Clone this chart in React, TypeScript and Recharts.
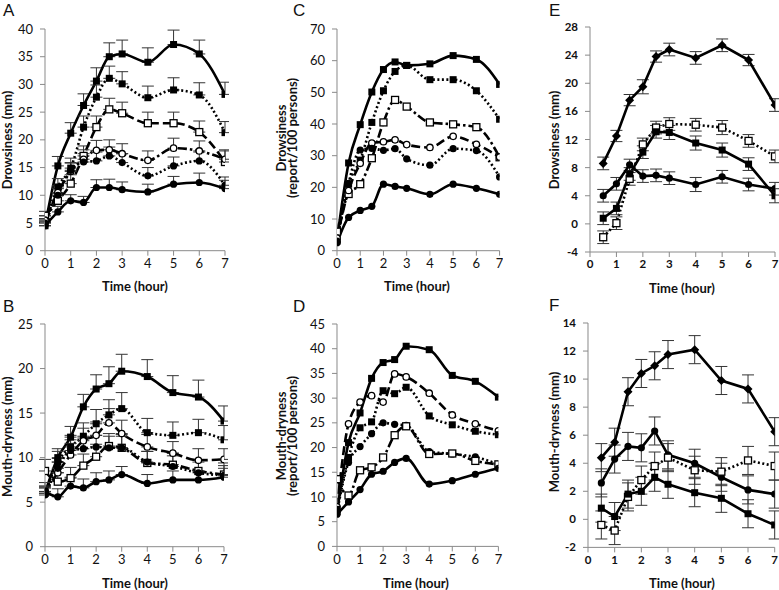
import React from 'react';
import { LineChart, Line, XAxis, YAxis, ErrorBar } from 'recharts';

// time points (hour)
const hoursAD = [0, 0.5, 1, 1.5, 2, 2.5, 3, 4, 5, 6, 7];
const hoursEF = [0.5, 1, 1.5, 2, 2.5, 3, 4, 5, 6, 7];
const hourTicks = [0, 1, 2, 3, 4, 5, 6, 7];

// A: Drowsiness (mm)
const aSolidSq = [4.5, 15.3, 21.2, 26.2, 30.6, 35, 35.5, 34, 37.2, 35.5, 28.2];
const aDotSq = [5, 11.5, 14.9, 22.3, 27.7, 31.1, 30.1, 27.6, 29, 28.1, 21.3];
const aDashOpenSq = [6.3, 9, 12.1, 17.1, 22.3, 25.5, 24.8, 23, 23, 21.4, 16];
const aDashOpenCi = [5.5, 10.5, 14.3, 16.5, 18.1, 18.2, 17.5, 16.3, 18.5, 18, 16.5];
const aDotCi = [5, 10, 14.5, 16, 16.2, 17.1, 15.9, 13.5, 15.3, 16.2, 11.8];
const aSolidCi = [4.5, 7, 9, 8.7, 11.4, 11.4, 11, 10.6, 12, 12.3, 11.2];
const aSolidSqErr = [0.8, 1.7, 1.9, 2.1, 2.4, 2.5, 2.5, 2.6, 2.6, 2.5, 2.2];
const aDotSqErr = [0.8, 1.5, 1.8, 2, 2.2, 2.2, 2.2, 2.1, 2.2, 2.2, 2];
const aDashOpenSqErr = [0.8, 1.3, 1.6, 1.8, 2, 2, 2, 2, 2, 2, 2];
const aDashOpenCiErr = [0.8, 1.3, 1.5, 1.7, 1.8, 1.8, 1.8, 1.7, 1.8, 1.8, 1.7];
const aDotCiErr = [0.7, 1.2, 1.4, 1.5, 1.6, 1.6, 1.6, 1.5, 1.6, 1.6, 1.5];
const aSolidCiErr = [0.6, 1, 1.1, 1.1, 1.4, 1.5, 1.4, 1.4, 1.4, 1.7, 1.5];

// B: Mouth-dryness (mm)
const bSolidSq = [6, 10, 12.3, 15.7, 17.7, 18.3, 19.7, 19.1, 17.3, 16.8, 14.1];
const bDotSq = [6, 9.5, 11.2, 12.4, 13.8, 14.8, 15.5, 12.8, 12.5, 12.8, 12];
const bDashDotOpenSq = [8.5, 7.3, 7.7, 9.1, 10.1, 11.3, 11.1, 9.4, 9.2, 8.5, 8.1];
const bDashOpenCi = [6.2, 8.3, 10.3, 11.9, 12.5, 13.9, 12.7, 11.2, 10.5, 9.7, 9.8];
const bDotCi = [5.8, 8.8, 10.8, 11, 11.2, 11.1, 11.1, 9.5, 9, 8.3, 8];
const bSolidCi = [6.2, 5.6, 6.8, 6.6, 7.3, 7.5, 8.1, 7.1, 7.5, 7.5, 7.8];
const bSolidSqErr = [0.6, 1, 1.2, 1.4, 1.6, 1.9, 1.9, 1.9, 1.9, 1.9, 1.7];
const bDotSqErr = [0.8, 1.2, 1.3, 1.5, 1.6, 1.7, 1.8, 1.6, 1.5, 1.5, 1.6];
const bDashDotOpenSqErr = [1.3, 1, 1.2, 1.3, 1.4, 1.4, 1.5, 1.3, 1.3, 1.3, 1.3];
const bDashOpenCiErr = [1, 1.2, 1.3, 1.4, 1.5, 1.6, 1.5, 1.4, 1.3, 1.3, 1.2];
const bDotCiErr = [0.8, 1.1, 1.2, 1.2, 1.3, 1.3, 1.3, 1.2, 1.2, 1.2, 1.1];
const bSolidCiErr = [0.6, 0.9, 1, 1, 1, 1, 0.9, 1, 1, 1, 1];

// C: Drowsiness (report/100 persons)
const cSolidSq = [3.4, 27.7, 39.8, 50.1, 57.2, 59.6, 58.5, 59, 61.6, 60.4, 52.5];
const cDotSq = [3, 21, 28.6, 40.5, 50.5, 56.6, 58.5, 54, 54, 50.5, 41.5];
const cDashDotOpenSq = [6, 17.9, 21, 29.2, 40.5, 47.6, 45.5, 40.5, 39.9, 39, 29.5];
const cDashOpenCi = [4, 19, 27.6, 34, 34.4, 35, 33.5, 32.6, 36.1, 33.6, 29.6];
const cDotCi = [3, 21.3, 31.8, 32.3, 31.7, 32.2, 29, 27, 32.2, 31.6, 23.3];
const cSolidCi = [2.5, 10.5, 12.7, 14, 21, 20.3, 19.7, 17.8, 21, 19.7, 17.8];

// D: Mouth-dryness (report/100 persons)
const dSolidSq = [7, 21, 27, 34, 37.2, 37.8, 40.5, 39.8, 34.6, 33.4, 30.2];
const dDashOpenCi = [8, 24.8, 29.2, 30.5, 29.2, 34.9, 34.3, 31, 26.6, 24.8, 23.4];
const dDotSq = [7.5, 18, 24, 25.2, 31.5, 30.9, 32.2, 26.4, 24.6, 23.3, 22.6];
const dDotCi = [7, 17, 20.2, 22.8, 25, 24.7, 24.5, 19.2, 18.7, 18.1, 16.6];
const dDashDotOpenSq = [13.6, 10.3, 15.4, 16, 18, 22.5, 24.3, 18.7, 18.8, 17.3, 16.6];
const dSolidCi = [6.5, 9, 11.5, 14.6, 15.2, 17, 17.8, 12.6, 13.3, 14.6, 15.8];

// E: Drowsiness (mm)
const eSolidDia = [8.6, 12.5, 17.6, 19.5, 23.8, 24.8, 23.6, 25.4, 23.3, 16.9];
const eDotOpenSq = [-1.9, 0.1, 6.4, 11.3, 13.7, 14.2, 14.1, 13.7, 11.8, 9.6];
const eSolidSq = [0.8, 2.2, 7.1, 10.2, 13.1, 13, 11.5, 10.5, 8.5, 4];
const eSolidCi = [4, 5.7, 8.4, 6.8, 6.9, 6.5, 5.6, 6.7, 5.6, 5];
const eSolidDiaErr = [0.9, 0.8, 0.8, 1, 0.8, 0.9, 0.9, 0.9, 0.8, 0.9];
const eDotOpenSqErr = [0.9, 0.9, 0.9, 0.9, 0.9, 0.9, 0.9, 1, 0.9, 0.9];
const eSolidSqErr = [0.9, 0.9, 0.9, 0.9, 0.9, 1, 1, 1, 0.9, 1];
const eSolidCiErr = [0.9, 0.9, 0.8, 0.9, 0.9, 0.9, 1, 0.9, 0.9, 0.9];

// F: Mouth-dryness (mm)
const fSolidDia = [4.4, 5.5, 9.1, 10.4, 10.95, 11.75, 12.1, 9.9, 9.3, 6.25];
const fSolidCi = [2.6, 4.3, 5.2, 5.1, 6.3, 4.6, 4, 3, 2.1, 1.8];
const fDotOpenSq = [-0.4, -0.8, 1.6, 2.8, 3.8, 4.4, 3.5, 3.4, 4.2, 3.8];
const fSolidSq = [0.8, 0.2, 1.8, 2, 3, 2.5, 1.9, 1.5, 0.4, -0.4];
const fSolidDiaErr = [1, 1, 1, 1, 1, 1, 1, 1, 1, 1];
const fSolidCiErr = [1, 1, 1, 1, 1, 1, 1, 1, 1, 1];
const fDotOpenSqErr = [1, 1, 1, 1, 1, 1, 1, 1, 1, 1];
const fSolidSqErr = [1, 1, 1, 1, 1, 1, 1, 1, 1, 1];

const FONT = 'Lato, "Liberation Sans", Arial, sans-serif';
const AXIS = '#8a8a8a';
const SOLID = undefined;
const DOT = '2 2.5';
const DASH = '9 4';
const DASHDOT = '9 3 2.5 3';

type MarkerKind = 'sq' | 'osq' | 'ci' | 'oci' | 'dia';
type SeriesDef = { values: number[]; err?: number[]; dash?: string; marker: MarkerKind };

const makeDot = (kind: MarkerKind) => (p: any) => {
  const { cx, cy, index } = p;
  if (cx == null || cy == null) return <g key={index} />;
  if (kind === 'sq' || kind === 'osq') {
    const open = kind === 'osq';
    return (
      <rect key={index} x={cx - 3.5} y={cy - 3.5} width={7} height={7}
        fill={open ? '#fff' : '#000'} stroke="#000" strokeWidth={open ? 1.3 : 0} />
    );
  }
  if (kind === 'ci' || kind === 'oci') {
    const open = kind === 'oci';
    return (
      <circle key={index} cx={cx} cy={cy} r={open ? 3.2 : 3.6}
        fill={open ? '#fff' : '#000'} stroke="#000" strokeWidth={open ? 1.3 : 0} />
    );
  }
  return (
    <polygon key={index} fill="#000"
      points={`${cx},${cy - 4.5} ${cx + 4.5},${cy} ${cx},${cy + 4.5} ${cx - 4.5},${cy}`} />
  );
};

const buildRows = (hours: number[], series: SeriesDef[], upOnly: boolean) =>
  hours.map((h, i) => {
    const row: any = { h };
    series.forEach((s, j) => {
      row['v' + j] = s.values[i];
      if (s.err) row['e' + j] = upOnly ? [0, s.err[i]] : s.err[i];
    });
    return row;
  });

interface PanelProps {
  plotLeft: number;
  plotRight: number;
  plotTop: number;
  plotBottom: number;
  hours: number[];
  series: SeriesDef[];
  domain: [number, number];
  ticks: number[];
  smooth: boolean;
  upOnly?: boolean;
  tickSize: number;
  tickWeight: number;
}

const Panel = ({ plotLeft, plotRight, plotTop, plotBottom, hours, series, domain, ticks, smooth, upOnly = false, tickSize, tickWeight }: PanelProps) => {
  const yw = 44;
  const xh = 28;
  const chartLeft = plotLeft - yw;
  const chartTop = plotTop - 10;
  const right = Math.min(779, plotRight + 4);
  const W = right - chartLeft;
  const H = plotBottom + xh + 2 - chartTop;
  const rows = buildRows(hours, series, upOnly);
  const tickStyle = { fill: '#111', fontSize: tickSize, fontFamily: FONT, fontWeight: tickWeight };
  return (
    <div style={{ position: 'absolute', left: chartLeft, top: chartTop, width: W, height: H }}>
      <LineChart width={W} height={H} data={rows}
        margin={{ top: 10, right: right - plotRight, bottom: 2, left: 0 }}>
        <XAxis dataKey="h" type="number" domain={[0, 7]} ticks={hourTicks} interval={0}
          allowDataOverflow height={xh} stroke={AXIS} tickSize={5} tickMargin={3} tick={tickStyle} />
        <YAxis type="number" domain={domain} ticks={ticks} interval={0} allowDataOverflow
          width={yw} stroke={AXIS} tickSize={5} tickMargin={7} tick={tickStyle} />
        {series.map((s, j) => (
          <Line key={j} dataKey={'v' + j} type={smooth ? 'monotone' : 'linear'} stroke="#000"
            strokeWidth={2.6} strokeDasharray={s.dash} dot={makeDot(s.marker)} activeDot={false}
            isAnimationActive={false}>
            {s.err && (
              <ErrorBar dataKey={'e' + j} direction="y" width={6} stroke="#333" strokeWidth={1} />
            )}
          </Line>
        ))}
      </LineChart>
    </div>
  );
};

const seriesA: SeriesDef[] = [
  { values: aSolidSq, err: aSolidSqErr, dash: SOLID, marker: 'sq' },
  { values: aDotSq, err: aDotSqErr, dash: DOT, marker: 'sq' },
  { values: aDashOpenSq, err: aDashOpenSqErr, dash: DASH, marker: 'osq' },
  { values: aDashOpenCi, err: aDashOpenCiErr, dash: DASHDOT, marker: 'oci' },
  { values: aDotCi, err: aDotCiErr, dash: DOT, marker: 'ci' },
  { values: aSolidCi, err: aSolidCiErr, dash: SOLID, marker: 'ci' },
];
const seriesB: SeriesDef[] = [
  { values: bSolidSq, err: bSolidSqErr, dash: SOLID, marker: 'sq' },
  { values: bDotSq, err: bDotSqErr, dash: DOT, marker: 'sq' },
  { values: bDashDotOpenSq, err: bDashDotOpenSqErr, dash: DASHDOT, marker: 'osq' },
  { values: bDashOpenCi, err: bDashOpenCiErr, dash: DASH, marker: 'oci' },
  { values: bDotCi, err: bDotCiErr, dash: DOT, marker: 'ci' },
  { values: bSolidCi, err: bSolidCiErr, dash: SOLID, marker: 'ci' },
];
const seriesC: SeriesDef[] = [
  { values: cSolidSq, dash: SOLID, marker: 'sq' },
  { values: cDotSq, dash: DOT, marker: 'sq' },
  { values: cDashDotOpenSq, dash: DASHDOT, marker: 'osq' },
  { values: cDashOpenCi, dash: DASH, marker: 'oci' },
  { values: cDotCi, dash: DOT, marker: 'ci' },
  { values: cSolidCi, dash: SOLID, marker: 'ci' },
];
const seriesD: SeriesDef[] = [
  { values: dSolidSq, dash: SOLID, marker: 'sq' },
  { values: dDashOpenCi, dash: DASH, marker: 'oci' },
  { values: dDotSq, dash: DOT, marker: 'sq' },
  { values: dDotCi, dash: DOT, marker: 'ci' },
  { values: dDashDotOpenSq, dash: DASHDOT, marker: 'osq' },
  { values: dSolidCi, dash: SOLID, marker: 'ci' },
];
const seriesE: SeriesDef[] = [
  { values: eSolidDia, err: eSolidDiaErr, dash: SOLID, marker: 'dia' },
  { values: eDotOpenSq, err: eDotOpenSqErr, dash: DOT, marker: 'osq' },
  { values: eSolidSq, err: eSolidSqErr, dash: SOLID, marker: 'sq' },
  { values: eSolidCi, err: eSolidCiErr, dash: SOLID, marker: 'ci' },
];
const seriesF: SeriesDef[] = [
  { values: fSolidDia, err: fSolidDiaErr, dash: SOLID, marker: 'dia' },
  { values: fSolidCi, err: fSolidCiErr, dash: SOLID, marker: 'ci' },
  { values: fDotOpenSq, err: fDotOpenSqErr, dash: DOT, marker: 'osq' },
  { values: fSolidSq, err: fSolidSqErr, dash: SOLID, marker: 'sq' },
];

const titleStyle = { fontFamily: FONT, fontWeight: 700, fontSize: 13, fill: '#111' } as const;
const letterStyle = { fontFamily: '"Liberation Sans", Arial, sans-serif', fontSize: 17, fill: '#111' } as const;

const YTitle = ({ x, y, text }: { x: number; y: number; text: string }) => (
  <text x={x} y={y} transform={`rotate(-90 ${x} ${y})`} textAnchor="middle" dominantBaseline="central" style={titleStyle}>
    {text}
  </text>
);
const XTitle = ({ x, y }: { x: number; y: number }) => (
  <text x={x} y={y} textAnchor="middle" dominantBaseline="central" style={titleStyle}>Time (hour)</text>
);

export default function App() {
  return (
    <div style={{ position: 'absolute', left: 0, top: 0, width: 779, height: 590, overflow: 'hidden', background: '#fff' }}>
      <Panel plotLeft={45} plotRight={225} plotTop={29} plotBottom={250.7} hours={hoursAD} series={seriesA}
        domain={[0, 40]} ticks={[0, 5, 10, 15, 20, 25, 30, 35, 40]} smooth upOnly tickSize={13} tickWeight={400} />
      <Panel plotLeft={45} plotRight={224} plotTop={324} plotBottom={546.7} hours={hoursAD} series={seriesB}
        domain={[0, 25]} ticks={[0, 5, 10, 15, 20, 25]} smooth upOnly tickSize={13} tickWeight={400} />
      <Panel plotLeft={336.7} plotRight={499.3} plotTop={29} plotBottom={250.7} hours={hoursAD} series={seriesC}
        domain={[0, 70]} ticks={[0, 10, 20, 30, 40, 50, 60, 70]} smooth tickSize={13} tickWeight={400} />
      <Panel plotLeft={337.3} plotRight={498.7} plotTop={324.3} plotBottom={546.7} hours={hoursAD} series={seriesD}
        domain={[0, 45]} ticks={[0, 5, 10, 15, 20, 25, 30, 35, 40, 45]} smooth tickSize={13} tickWeight={400} />
      <Panel plotLeft={589.7} plotRight={774.7} plotTop={27.3} plotBottom={252.3} hours={hoursEF} series={seriesE}
        domain={[-4, 28]} ticks={[-4, 0, 4, 8, 12, 16, 20, 24, 28]} smooth={false} tickSize={11.5} tickWeight={700} />
      <Panel plotLeft={588} plotRight={774.7} plotTop={323.3} plotBottom={547.7} hours={hoursEF} series={seriesF}
        domain={[-2, 14]} ticks={[-2, 0, 2, 4, 6, 8, 10, 12, 14]} smooth={false} tickSize={11.5} tickWeight={700} />

      <svg width={779} height={590} style={{ position: 'absolute', left: 0, top: 0, pointerEvents: 'none' }}>
        <text x={3} y={16} style={letterStyle}>A</text>
        <text x={293} y={16} style={letterStyle}>C</text>
        <text x={549} y={16} style={letterStyle}>E</text>
        <text x={3} y={312} style={letterStyle}>B</text>
        <text x={293} y={312} style={letterStyle}>D</text>
        <text x={549} y={311} style={letterStyle}>F</text>

        <YTitle x={7} y={140} text="Drowsiness (mm)" />
        <YTitle x={280.7} y={138} text="Drowsiness" />
        <YTitle x={292} y={138} text="(report/100 persons)" />
        <YTitle x={554} y={140} text="Drowsiness (mm)" />
        <YTitle x={7} y={436.7} text="Mouth-dryness (mm)" />
        <YTitle x={280.5} y={436} text="Mouth-dryness" />
        <YTitle x={292} y={436} text="(report/100 persons)" />
        <YTitle x={554} y={432} text="Mouth-dryness (mm)" />

        <XTitle x={135} y={286} />
        <XTitle x={417} y={286} />
        <XTitle x={682} y={288} />
        <XTitle x={135} y={583} />
        <XTitle x={416} y={583} />
        <XTitle x={682} y={583} />
      </svg>
    </div>
  );
}
